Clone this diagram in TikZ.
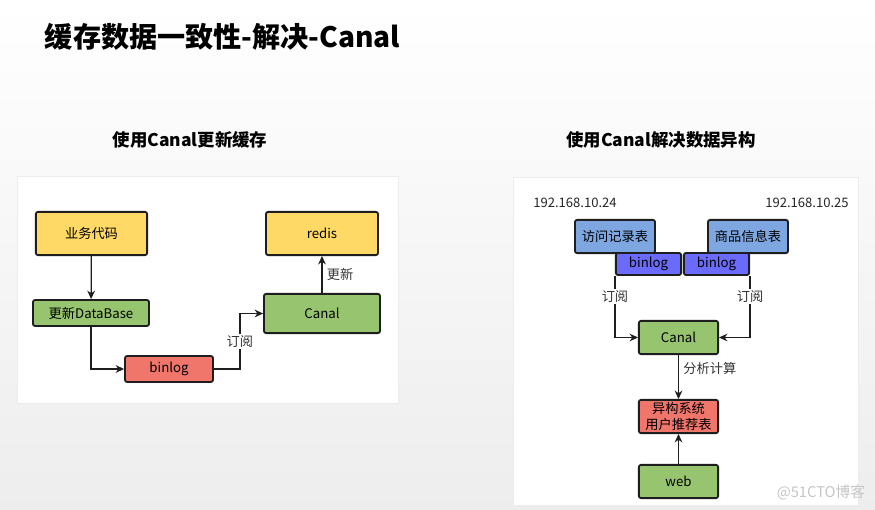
\documentclass[tikz,border=0pt]{standalone}
\usepackage{fontspec}
\setmainfont{Noto Sans CJK SC}
\usetikzlibrary{arrows.meta,positioning}
\definecolor{boxyellow}{HTML}{FFD966}
\definecolor{boxgreen}{HTML}{97C46E}
\definecolor{boxred}{HTML}{F0766B}
\definecolor{boxblue}{HTML}{7EA6E0}
\definecolor{boxbinlog}{HTML}{6B6BFB}
\definecolor{edge}{HTML}{1E1E1E}

\begin{document}
\begin{tikzpicture}[x=0.025cm,y=-0.025cm,
  box/.style={draw=edge, line width=1.3pt, rounded corners=1.5pt, inner sep=0pt, align=center, font=\fontsize{9.4}{12}\selectfont},
  flow/.style={draw=edge, line width=0.9pt, -{Stealth[length=6pt,width=5.5pt]}},
  elabel/.style={font=\fontsize{9.4}{11}\selectfont, fill=white, inner sep=1pt, text=black!80}]
\useasboundingbox (0,0) rectangle (875,510);
\shade[top color=white, bottom color=gray!14] (0,0) rectangle (875,510);

% Headers
\node[anchor=west, font=\fontsize{20}{24}\selectfont\bfseries] (title) at (40,37) {缓存数据一致性-解决-Canal};
\node[font=\fontsize{12.4}{14}\selectfont\bfseries] (subL) at (190,140) {使用Canal更新缓存};
\node[font=\fontsize{12.4}{14}\selectfont\bfseries] (subR) at (661,140) {使用Canal解决数据异构};

% Panels
\draw[gray!15, fill=white] (17,176) rectangle (398,403);
\draw[gray!15, fill=white] (513,177) rectangle (858,505);

% Left: update cache
\node[box, fill=boxyellow, minimum width=2.78cm, minimum height=1.08cm] (biz) at (91.5,233.5) {业务代码};
\node[box, fill=boxgreen, minimum width=2.9cm, minimum height=0.65cm] (db) at (91,313) {更新DataBase};
\node[box, fill=boxred, minimum width=2.2cm, minimum height=0.65cm] (binL) at (169,369) {binlog};
\node[box, fill=boxgreen, minimum width=2.9cm, minimum height=0.98cm] (canalL) at (322,313.5) {Canal};
\node[box, fill=boxyellow, minimum width=2.8cm, minimum height=1.08cm] (redis) at (322,233.5) {redis};

\draw[flow] (biz) -- (db);
\draw[flow] (db.south) |- (binL.west);
\draw[flow] (binL.east) -- ++(26,0) |- node[elabel, pos=0.25] (subA) {订阅} (canalL.west);
\draw[flow] (canalL) -- node[elabel, right=2pt] (upd) {更新} (redis);

% Right: heterogeneous data
\node[font=\fontsize{9.3}{11}\selectfont, text=black!85] (ip1) at (575,203) {192.168.10.24};
\node[font=\fontsize{9.3}{11}\selectfont, text=black!85] (ip2) at (807,203) {192.168.10.25};
\node[box, fill=boxblue, minimum width=2cm, minimum height=0.83cm] (visit) at (615,236.5) {访问记录表};
\node[box, fill=boxblue, minimum width=2cm, minimum height=0.83cm] (goods) at (748,236.5) {商品信息表};
\node[box, fill=boxbinlog, minimum width=1.63cm, minimum height=0.55cm] (binA) at (648.5,264) {binlog};
\node[box, fill=boxbinlog, minimum width=1.63cm, minimum height=0.55cm] (binB) at (716.5,264) {binlog};
\node[box, fill=boxgreen, minimum width=1.98cm, minimum height=0.83cm] (canalR) at (678.5,337.5) {Canal};
\node[box, fill=boxred, minimum width=1.98cm, minimum height=0.83cm] (hetero) at (678.5,416.5) {异构系统\\用户推荐表};
\node[box, fill=boxgreen, minimum width=1.98cm, minimum height=0.83cm] (web) at (678.5,481.5) {web};

\draw[flow] (binA.south west) |- node[elabel, pos=0.17] (subB) {订阅} (canalR.west);
\draw[flow] (binB.south east) |- node[elabel, pos=0.17] (subC) {订阅} (canalR.east);
\draw[flow] (canalR) -- node[elabel, right=2pt, pos=0.3] (calc) {分析计算} (hetero);
\draw[flow] (web) -- (hetero);

% Watermark
\node[font=\fontsize{10.5}{12}\selectfont, text=gray!45] (mark) at (821,493) {@51CTO博客};
\end{tikzpicture}
\end{document}
